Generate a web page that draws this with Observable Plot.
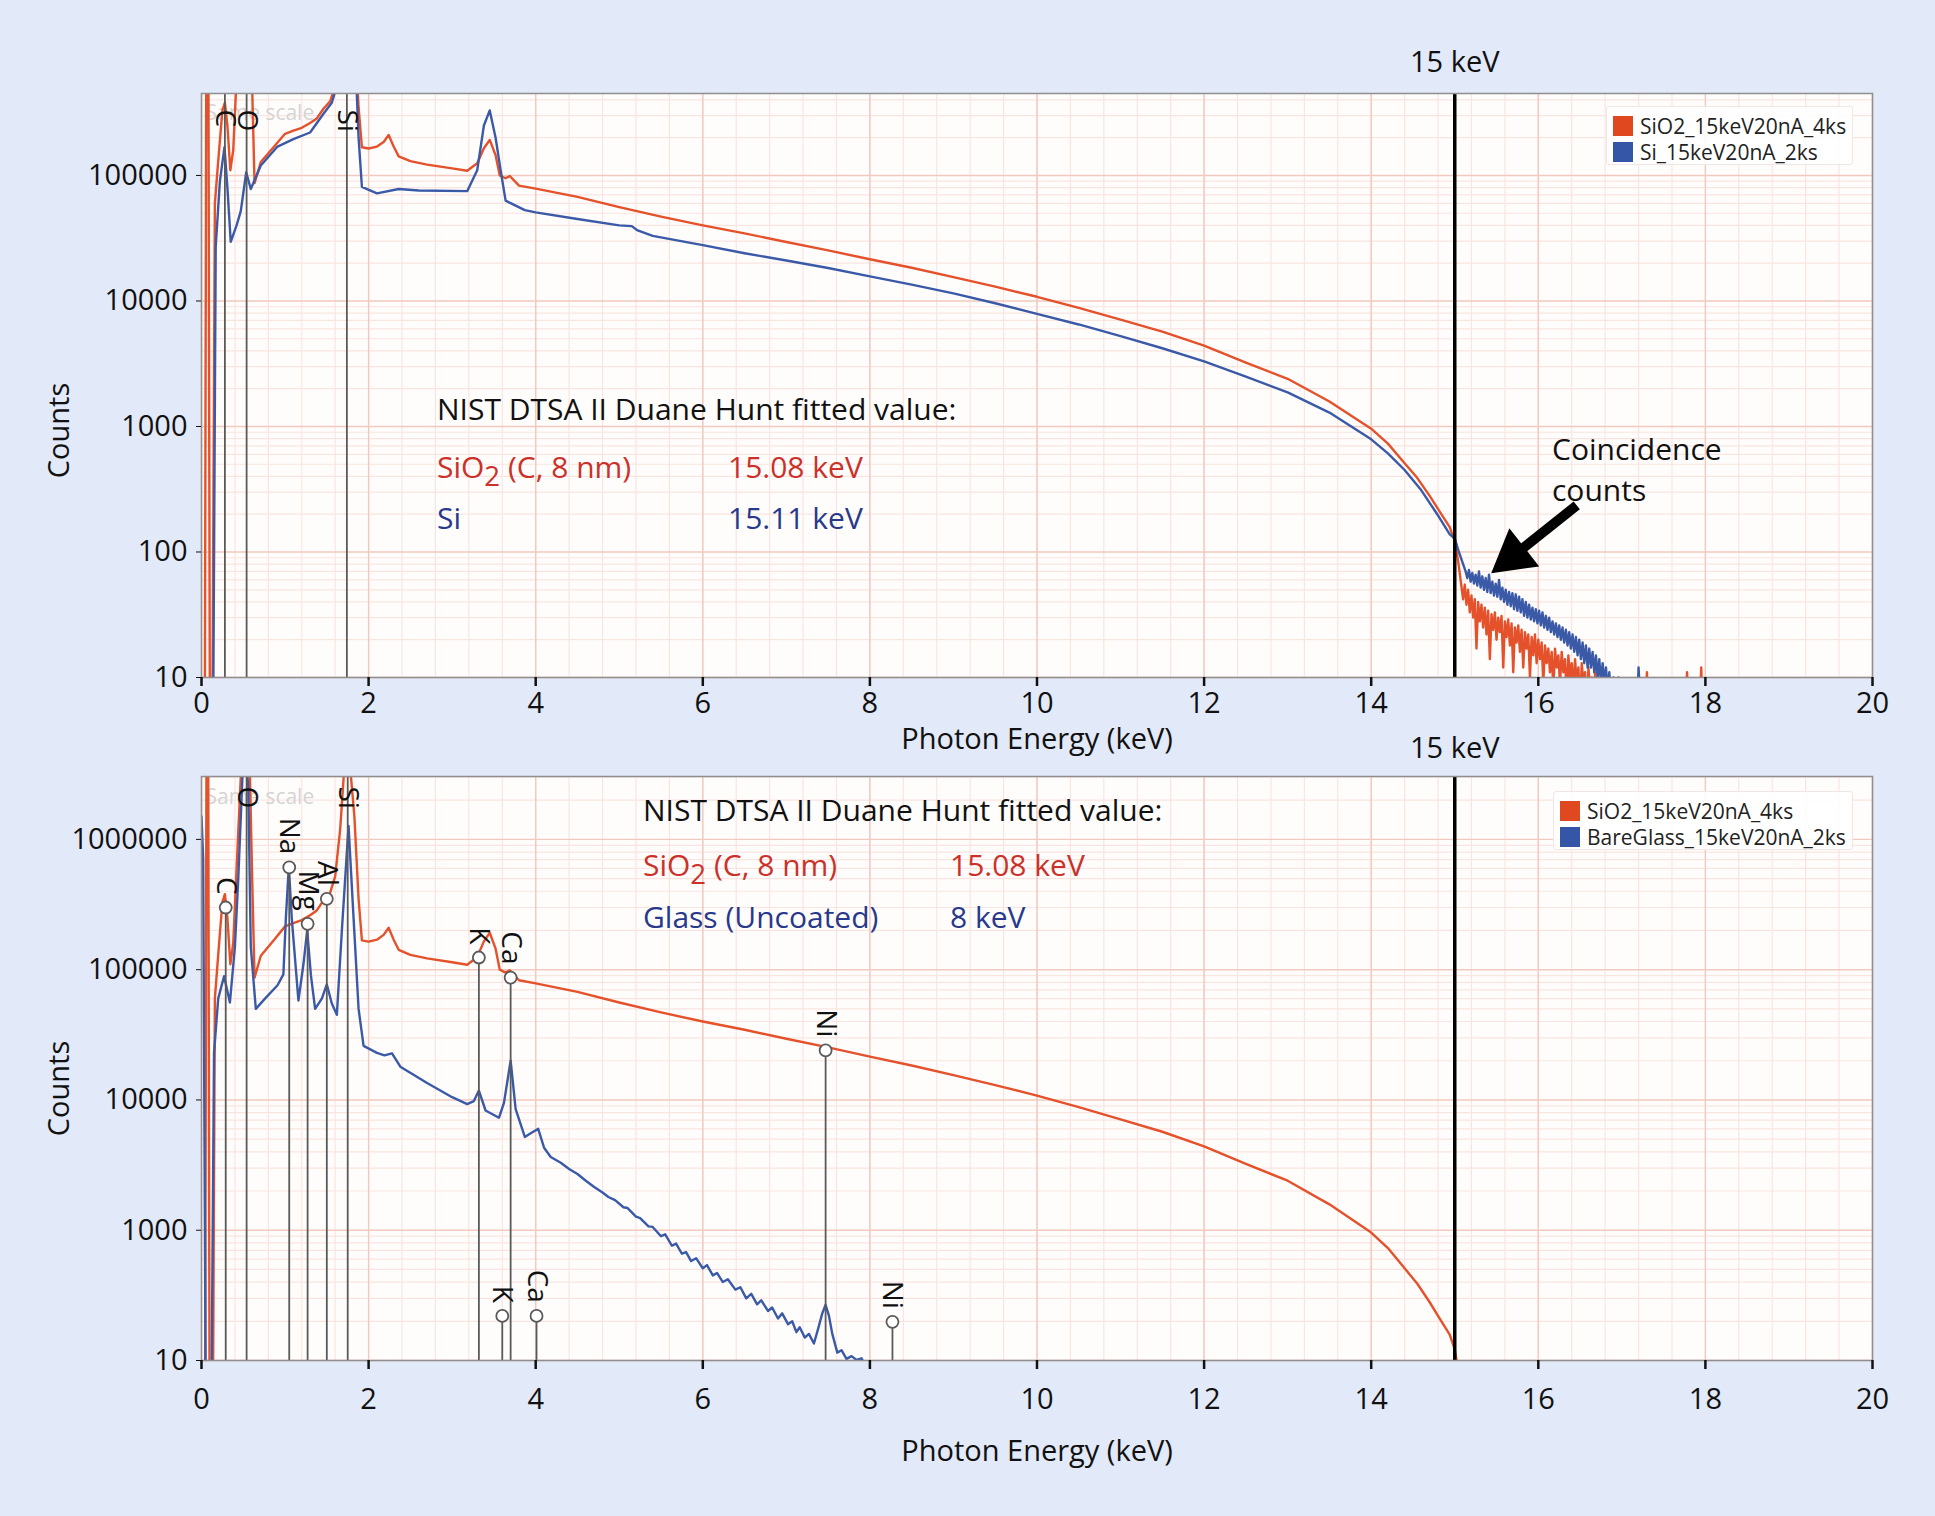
<!DOCTYPE html>
<html>
<head>
<meta charset="utf-8">
<script src="https://cdn.jsdelivr.net/npm/d3@7"></script>
<script src="https://cdn.jsdelivr.net/npm/@observablehq/plot@0.6"></script>
<style>
  html, body { margin: 0; padding: 0; background: #e2e9f8; }
  #wrap { position: relative; width: 1935px; height: 1516px; overflow: hidden; font-family: "Open Sans", sans-serif; }
  .panel { position: absolute; left: 0; }
  .panel svg { overflow: visible; display: block; }
  .ann { position: absolute; white-space: nowrap; line-height: 1; transform: translateY(-50%); }
  .legend { position: absolute; background: rgba(255,255,255,0.85); border: 1px solid #f0e6e3; border-radius: 3px; }
  .legend .row { position: absolute; left: 6px; display: flex; align-items: center; font-size: 21px; color: #222; white-space: nowrap; }
  .legend .sw { width: 20px; height: 20px; margin-right: 7px; }
  sub.s2 { font-size: 0.92em; vertical-align: -0.28em; line-height: 0; }
</style>
</head>
<body>
<div id="wrap"></div>
<script>
// ---------------- DATA ----------------
// Series names (legend entries)
const seriesNames = ["SiO2_15keV20nA_4ks", "Si_15keV20nA_2ks", "BareGlass_15keV20nA_2ks"];

// Spectrum of SiO2 (C coated) : [photon energy keV, counts]
const sio2Spectrum = [
  [0.00,5],[0.04,5],[0.06,6e6],[0.08,6e6],[0.10,5],[0.13,5],[0.16,60000],[0.20,130000],[0.25,330000],[0.28,380000],
  [0.31,250000],[0.345,110000],[0.38,160000],[0.42,600000],[0.47,3e6],[0.525,7e6],[0.58,3e6],[0.61,400000],[0.635,87000],
  [0.71,128000],[0.87,170000],[1.00,215000],[1.10,228000],[1.20,240000],[1.30,262000],[1.38,285000],[1.46,340000],
  [1.54,390000],[1.60,520000],[1.66,1.2e6],[1.74,7e6],[1.83,1.5e6],[1.88,350000],[1.92,168000],[2.00,164000],
  [2.10,170000],[2.18,185000],[2.24,210000],[2.30,170000],[2.36,142000],[2.50,130000],[2.70,122000],[3.00,114000],
  [3.18,109000],[3.30,125000],[3.38,165000],[3.45,192000],[3.52,145000],[3.57,100000],[3.64,95000],[3.69,99000],
  [3.80,83000],[4.00,78500],[4.50,67500],[5.00,56000],[5.50,47000],[6.00,40000],[6.50,34600],[7.00,29500],
  [7.50,25300],[8.00,21500],[8.50,18400],[9.00,15500],[9.50,13000],[10.00,10800],[10.50,8800],[11.00,7100],
  [11.50,5700],[12.00,4400],[12.50,3230],[13.00,2400],[13.50,1580],[14.00,960],[14.20,730],[14.40,510],[14.55,390],
  [14.70,280],[14.82,210],[14.94,158],[15.00,122],[15.04,85],[15.07,60],[15.10,42],[15.12,55],[15.14,38],[15.16,50],
  [15.18,33],[15.20,45],[15.22,30],[15.24,42],[15.26,17],[15.28,40],[15.30,28],[15.32,38],[15.34,25],[15.36,36],
  [15.38,22],[15.40,34],[15.42,14],[15.44,32],[15.46,24],[15.48,33],[15.50,20],[15.52,30],[15.54,23],[15.56,31],
  [15.58,12],[15.60,28],[15.62,21],[15.64,29],[15.66,18],[15.68,27],[15.70,11],[15.72,25],[15.74,19],[15.76,26],
  [15.78,16],[15.80,24],[15.82,12],[15.84,23],[15.86,17],[15.88,22],[15.90,10],[15.92,21],[15.94,15],[15.96,22],
  [15.98,13],[16.00,20],[16.02,14],[16.04,19],[16.06,9],[16.08,18],[16.10,13],[16.12,17],[16.14,11],[16.16,16],
  [16.18,8],[16.20,17],[16.22,12],[16.24,15],[16.26,9],[16.28,16],[16.30,11],[16.32,14],[16.34,7],[16.36,15],
  [16.38,10],[16.40,13],[16.42,8],[16.44,14],[16.46,9],[16.48,12],[16.50,6],[16.52,13],[16.54,9],[16.56,11],
  [16.58,5],[16.60,12],[16.62,8],[16.64,10],[16.66,5],[16.68,11],[16.70,7],[16.72,10],[16.74,5],[16.76,9],
  [16.78,6],[16.80,10],[16.82,5],[16.86,8],[16.90,5],[16.94,9],[16.98,5],[17.02,8],[17.06,5],[17.18,5],
  [17.20,10.5],[17.22,5],[17.28,5],[17.30,11],[17.32,5],[17.76,5],[17.78,11],[17.80,5],[17.93,5],[17.95,12],[17.97,5],[20.0,5]
];

// Spectrum of Si : [photon energy keV, counts]
const siSpectrum = [
  [0.00,5],[0.14,5],[0.17,27000],[0.22,90000],[0.275,168000],[0.31,80000],[0.35,29600],[0.42,40000],[0.47,52000],
  [0.535,106000],[0.59,78000],[0.71,120000],[0.91,170000],[1.10,195000],[1.30,220000],[1.46,310000],[1.56,380000],
  [1.62,520000],[1.68,2e6],[1.74,7e6],[1.82,2e6],[1.88,200000],[1.92,81000],[2.10,72000],[2.36,78000],[2.60,76000],
  [3.18,75000],[3.30,110000],[3.38,250000],[3.45,330000],[3.52,200000],[3.58,110000],[3.64,63000],[3.87,53000],
  [4.00,50800],[4.50,45000],[5.00,40000],[5.15,39500],[5.22,36500],[5.40,33000],[6.00,27900],[6.50,24000],
  [7.00,21000],[7.50,18300],[8.00,15700],[8.50,13500],[9.00,11500],[9.50,9600],[10.00,7900],[10.50,6500],
  [11.00,5250],[11.50,4200],[12.00,3300],[12.50,2500],[13.00,1870],[13.50,1290],[14.00,790],[14.20,610],
  [14.40,450],[14.60,310],[14.79,200],[14.94,138],[15.00,128],[15.05,100],[15.10,80],[15.13,70],[15.15,62],
  [15.17,72],[15.19,58],[15.21,68],[15.23,56],[15.25,66],[15.27,54],[15.29,70],[15.31,52],[15.33,64],[15.35,50],
  [15.37,62],[15.39,48],[15.41,66],[15.43,47],[15.45,58],[15.47,45],[15.49,56],[15.51,44],[15.53,60],[15.55,42],
  [15.57,52],[15.59,40],[15.61,50],[15.63,38],[15.65,48],[15.67,37],[15.69,47],[15.71,35],[15.73,46],[15.75,34],
  [15.77,44],[15.79,33],[15.81,42],[15.83,31],[15.85,40],[15.87,30],[15.89,38],[15.91,29],[15.93,36],[15.95,28],
  [15.97,35],[15.99,27],[16.01,34],[16.03,26],[16.05,33],[16.07,25],[16.09,31],[16.11,24],[16.13,30],[16.15,23],
  [16.17,28],[16.19,22],[16.21,27],[16.23,21],[16.25,26],[16.27,20],[16.29,25],[16.31,19],[16.33,24],[16.35,18],
  [16.37,23],[16.39,17],[16.41,22],[16.43,16],[16.45,21],[16.47,15],[16.49,20],[16.51,14],[16.53,19],[16.55,13],
  [16.57,18],[16.59,12],[16.61,17],[16.63,12],[16.65,16],[16.67,11],[16.69,15],[16.71,10],[16.73,14],[16.75,9],
  [16.77,13],[16.79,9],[16.81,12],[16.83,8],[16.85,11],[16.87,7],[16.90,10],[16.93,6],[16.96,10],[17.00,6],
  [17.04,9],[17.08,5],[17.18,5],[17.20,12],[17.23,5],[20.0,5]
];

// Spectrum of uncoated bare glass : [photon energy keV, counts]
const bareGlassSpectrum = [
  [0.00,1500000],[0.02,700000],[0.05,60],[0.12,60],[0.15,23000],[0.20,60000],[0.27,89000],[0.34,56000],[0.40,150000],
  [0.44,500000],[0.49,3e6],[0.525,5e6],[0.56,2.5e6],[0.59,150000],[0.65,50000],[0.76,60000],[0.91,76000],[0.98,92000],
  [1.01,250000],[1.045,620000],[1.08,250000],[1.16,58000],[1.22,110000],[1.265,200000],[1.31,90000],[1.36,50000],
  [1.44,60000],[1.50,77000],[1.56,55000],[1.62,45000],[1.68,200000],[1.76,1270000],[1.82,250000],[1.88,50000],
  [1.94,26000],[2.10,23000],[2.19,22000],[2.28,22800],[2.38,18000],[2.70,13500],[3.00,10500],[3.18,9300],[3.26,9800],
  [3.32,11800],[3.40,8300],[3.56,7300],[3.62,9500],[3.70,20000],[3.76,8500],[3.87,5200],[3.95,5600],[4.03,6000],
  [4.10,4300],[4.18,3650],[4.30,3300],[4.40,2950],[4.50,2700],[4.60,2400],[4.70,2150],[4.80,1950],[4.87,1800],
  [4.95,1700],[5.05,1500],[5.10,1480],[5.20,1270],[5.25,1240],[5.35,1070],[5.40,1060],[5.50,900],[5.55,930],
  [5.63,760],[5.68,790],[5.75,660],[5.80,680],[5.86,580],[5.92,610],[6.00,510],[6.05,540],[6.12,450],[6.17,470],
  [6.24,400],[6.30,420],[6.39,350],[6.45,365],[6.52,300],[6.58,325],[6.65,270],[6.70,290],[6.78,240],[6.83,255],
  [6.90,210],[6.95,230],[7.02,190],[7.07,200],[7.12,165],[7.16,180],[7.22,150],[7.27,160],[7.33,135],[7.38,175],
  [7.43,230],[7.47,268],[7.51,220],[7.55,160],[7.61,115],[7.66,120],[7.72,103],[7.78,108],[7.84,101],[7.90,104],
  [7.95,90],[8.00,60],[20.0,60]
];

// Element lines
const topPanelElementLines = [{el: "C", e: 0.28}, {el: "O", e: 0.54}, {el: "Si", e: 1.74}];
const bottomOffscaleLines = [{el: "O", e: 0.54}, {el: "Si", e: 1.75}];
const bottomPeakMarkers = [
  {el: "C", e: 0.29, v: 300000}, {el: "Na", e: 1.05, v: 610000}, {el: "Mg", e: 1.27, v: 225000},
  {el: "Al", e: 1.50, v: 350000}, {el: "K", e: 3.32, v: 124000}, {el: "Ca", e: 3.70, v: 87000},
  {el: "Ni", e: 7.47, v: 24000}, {el: "K", e: 3.60, v: 220}, {el: "Ca", e: 4.01, v: 220}, {el: "Ni", e: 8.27, v: 198}
];

const beamEnergy = [15];
const xTicks = [0, 2, 4, 6, 8, 10, 12, 14, 16, 18, 20];
const yTicksTop = [10, 100, 1000, 10000, 100000];
const yTickLabelsTop = ["10", "100", "1000", "10000", "100000"];
const yTicksBottom = [100, 1000, 10000, 100000, 1000000];
const yTickLabelsBottom = ["10", "1000", "10000", "100000", "1000000"];
const coincidenceArrow = [{x1: 16.46, y1: 235, x2: 15.70, y2: 93}];

// ---------------- STYLE ----------------
const FONT = "'Open Sans', sans-serif";
const RED = "#e4512b", BLUE = "#3a5aa8";
const TXT_RED = "#cc3129", TXT_BLUE = "#28398c";
const GRID_MAJOR = "#f1c9be", GRID_MINOR = "#f9e5e0";
const MARK_GRAY = "#5a5a5a";

const xGridMinor = d3.range(0, 20.0001, 0.4);
function logMinor(lo, hi) {
  const out = [];
  for (let d = Math.floor(Math.log10(lo)); d <= Math.ceil(Math.log10(hi)); d++)
    for (let k = 2; k <= 9; k++) { const v = k * 10 ** d; if (v > lo && v < hi) out.push(v); }
  return out;
}
function logMajor(lo, hi) {
  const out = [];
  for (let d = Math.ceil(Math.log10(lo)); 10 ** d <= hi; d++) out.push(10 ** d);
  return out;
}

function panel(o) {
  const labelMap = new Map(o.yTicks.map((t, i) => [t, o.yTickLabels[i]]));
  const marks = [
    Plot.frame({fill: "#fffdfc"}),
    Plot.ruleX(xGridMinor, {stroke: GRID_MINOR, strokeWidth: 1.2}),
    Plot.ruleY(logMinor(o.yDomain[0], o.yDomain[1]), {stroke: GRID_MINOR, strokeWidth: 1.2}),
    Plot.ruleX(xTicks, {stroke: GRID_MAJOR, strokeWidth: 1.4}),
    Plot.ruleY(logMajor(o.yDomain[0], o.yDomain[1]), {stroke: GRID_MAJOR, strokeWidth: 1.4}),
    Plot.text(["Same scale"], {text: d => d, frameAnchor: "top-left", dx: 4, dy: o.sameDy, textAnchor: "start",
      lineAnchor: "middle", fill: "#d4d4d4", fontSize: 21}),
  ];
  for (const s of o.series) {
    marks.push(Plot.line(s.data, {x: d => d[0], y: d => d[1], stroke: s.color, strokeWidth: 2.4, clip: true}));
  }
  marks.push(
    Plot.ruleX(o.fullLines, {x: "e", stroke: MARK_GRAY, strokeWidth: 1.8}),
    Plot.text(o.fullLines, {x: "e", text: "el", frameAnchor: "top", rotate: 90, textAnchor: "start",
      lineAnchor: "middle", dy: o.topLabelDy, fontSize: 28, fill: "#111"})
  );
  if (o.peaks) {
    marks.push(
      Plot.ruleX(o.peaks, {x: "e", y1: o.yDomain[0], y2: "v", stroke: MARK_GRAY, strokeWidth: 1.8}),
      Plot.dot(o.peaks, {x: "e", y: "v", r: 6, fill: "white", stroke: MARK_GRAY, strokeWidth: 1.8}),
      Plot.text(o.peaks, {x: "e", y: "v", text: "el", rotate: 90, textAnchor: "end", lineAnchor: "middle",
        dy: -13, fontSize: 28, fill: "#111"})
    );
  }
  marks.push(
    Plot.ruleX(beamEnergy, {x: d => d, stroke: "black", strokeWidth: 3.5}),
    Plot.text(beamEnergy, {x: d => d, text: d => d + " keV", frameAnchor: "top", lineAnchor: "middle",
      dy: o.beamDy, fontSize: 29, fill: "#111"})
  );
  if (o.arrow) {
    marks.push(
      Plot.link(o.arrow, {x1: "x1", y1: "y1", x2: "x2", y2: "y2", stroke: "black", strokeWidth: 10}),
      Plot.dot(o.arrow, {x: "x2", y: "y2", symbol: "triangle", r: 18, fill: "black", rotate: 232})
    );
  }
  marks.push(
    Plot.frame({stroke: "#8f8f8f", strokeWidth: 1.5}),
    Plot.axisX({ticks: xTicks, tickSize: 9, tickPadding: o.tickPadX, fontSize: 29, label: null, strokeWidth: 2.5,
      tickFormat: d => String(d)}),
    Plot.axisY({ticks: o.yTicks, tickSize: 5, tickPadding: 9, fontSize: 29, label: null, tickFormat: d => labelMap.get(d)}),
    Plot.text(["Photon Energy (keV)"], {text: d => d, frameAnchor: "bottom", lineAnchor: "middle", dy: o.xLabelDy,
      fontSize: 29, fill: "#111"}),
    Plot.text(["Counts"], {text: d => d, frameAnchor: "left", textAnchor: "middle", lineAnchor: "middle",
      dx: -142, dy: o.countsDy, rotate: -90, fontSize: 29, fill: "#111"})
  );
  return Plot.plot({
    width: 1935, height: o.height,
    marginTop: o.marginTop, marginBottom: o.marginBottom, marginLeft: 201, marginRight: 63,
    style: {background: "transparent", overflow: "visible", fontFamily: FONT, color: "#111"},
    x: {domain: [0, 20]},
    y: {type: "log", domain: o.yDomain},
    marks
  });
}

const wrap = document.getElementById("wrap");

const topPlot = panel({
  height: 760, marginTop: 93, marginBottom: 83, yDomain: [10, 450000],
  yTicks: yTicksTop, yTickLabels: yTickLabelsTop,
  series: [{data: sio2Spectrum, color: RED}, {data: siSpectrum, color: BLUE}],
  fullLines: topPanelElementLines, peaks: null, topLabelDy: 16, sameDy: 20,
  tickPadX: 6, xLabelDy: 62, countsDy: 45, beamDy: -31, arrow: coincidenceArrow
});
const topDiv = document.createElement("div");
topDiv.className = "panel"; topDiv.style.top = "0px"; topDiv.appendChild(topPlot);
wrap.appendChild(topDiv);

const bottomPlot = panel({
  height: 756, marginTop: 16, marginBottom: 156, yDomain: [100, 3.04e6],
  yTicks: yTicksBottom, yTickLabels: yTickLabelsBottom,
  series: [{data: sio2Spectrum, color: RED}, {data: bareGlassSpectrum, color: BLUE}],
  fullLines: bottomOffscaleLines, peaks: bottomPeakMarkers, topLabelDy: 10, sameDy: 21,
  tickPadX: 19, xLabelDy: 91, countsDy: 20, beamDy: -28, arrow: null
});
const botDiv = document.createElement("div");
botDiv.className = "panel"; botDiv.style.top = "760px"; botDiv.appendChild(bottomPlot);
wrap.appendChild(botDiv);

// ---------------- ANNOTATIONS & LEGENDS ----------------
function ann(html, left, topPx, color, size) {
  const d = document.createElement("div");
  d.className = "ann";
  d.innerHTML = html;
  d.style.left = left + "px"; d.style.top = topPx + "px";
  d.style.color = color; d.style.fontSize = size + "px";
  wrap.appendChild(d);
}
const sio2Html = "SiO<sub class='s2'>2</sub> (C, 8 nm)";
ann("NIST DTSA II Duane Hunt fitted value:", 437, 409, "#111", 30);
ann(sio2Html, 437, 467, TXT_RED, 30);
ann("15.08 keV", 728, 467, TXT_RED, 30);
ann("Si", 437, 518, TXT_BLUE, 30);
ann("15.11 keV", 728, 518, TXT_BLUE, 30);
ann("Coincidence", 1552, 449, "#111", 30);
ann("counts", 1552, 490, "#111", 30);

ann("NIST DTSA II Duane Hunt fitted value:", 643, 810, "#111", 30);
ann(sio2Html, 643, 865, TXT_RED, 30);
ann("15.08 keV", 950, 865, TXT_RED, 30);
ann("Glass (Uncoated)", 643, 917, TXT_BLUE, 30);
ann("8 keV", 950, 917, TXT_BLUE, 30);

function legend(left, topPx, w, h, entries) {
  const box = document.createElement("div");
  box.className = "legend";
  Object.assign(box.style, {left: left + "px", top: topPx + "px", width: w + "px", height: h + "px"});
  entries.forEach((e, i) => {
    const r = document.createElement("div");
    r.className = "row";
    r.style.top = (5 + i * 26) + "px";
    r.innerHTML = `<span class="sw" style="background:${e.color}"></span>${e.name}`;
    box.appendChild(r);
  });
  wrap.appendChild(box);
}
legend(1606, 106, 245, 57, [{name: seriesNames[0], color: "#e0491f"}, {name: seriesNames[1], color: "#3556a6"}]);
legend(1553, 791, 298, 57, [{name: seriesNames[0], color: "#e0491f"}, {name: seriesNames[2], color: "#3556a6"}]);
</script>
</body>
</html>
